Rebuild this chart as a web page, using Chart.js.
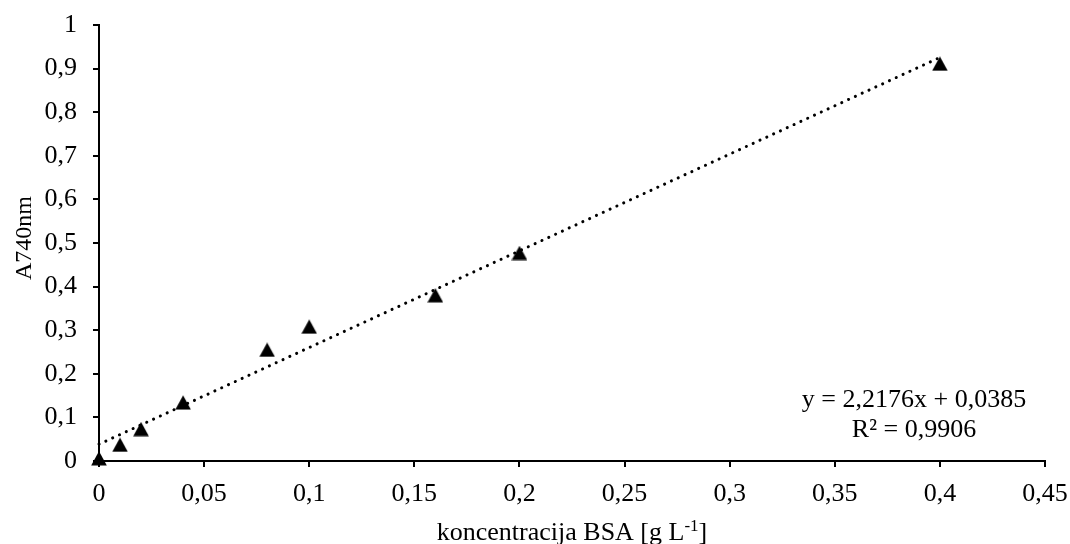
<!DOCTYPE html>
<html>
<head>
<meta charset="utf-8">
<script src="https://cdn.jsdelivr.net/npm/chart.js@4.4.0/dist/chart.umd.min.js"></script>
<style>
  html, body { margin: 0; padding: 0; background: #fff; }
  #wrap { width: 1070px; height: 544px; }
</style>
</head>
<body>
<div id="wrap"><canvas id="c" width="1070" height="544"></canvas></div>
<script>
// ---- data ----
const concentrations = [0, 0.01, 0.02, 0.04, 0.08, 0.1, 0.16, 0.2, 0.4];
const absorbance     = [0.006, 0.037, 0.073, 0.134, 0.255, 0.308, 0.38, 0.477, 0.911];
const trendSlope = 2.2176;
const trendIntercept = 0.0385;
const trendRange = [0, 0.4];
const xTickLabels = ['0', '0,05', '0,1', '0,15', '0,2', '0,25', '0,3', '0,35', '0,4', '0,45'];
const yTickLabels = ['0', '0,1', '0,2', '0,3', '0,4', '0,5', '0,6', '0,7', '0,8', '0,9', '1'];
const xTitle = 'koncentracija BSA [g L';
const xTitleSup = '-1';
const xTitleEnd = ']';
const yTitle = 'A740nm';
const eqLine1 = 'y = 2,2176x + 0,0385';
const eqLine2 = 'R² = 0,9906';

const FONT = '"Liberation Serif", "Times New Roman", serif';

// triangle marker
const tri = document.createElement('canvas');
tri.width = 16; tri.height = 15;
(function () {
  const t = tri.getContext('2d');
  t.fillStyle = '#000';
  t.beginPath();
  t.moveTo(8, 0.3);
  t.lineTo(15.8, 14.6);
  t.lineTo(0.2, 14.6);
  t.closePath();
  t.fill();
})();

const points = concentrations.map((x, i) => ({ x: x, y: absorbance[i] }));
const trend = trendRange.map(x => ({ x: x, y: trendSlope * x + trendIntercept }));

const textPlugin = {
  id: 'texts',
  afterDraw(chart) {
    const ctx = chart.ctx;
    const a = chart.chartArea;
    ctx.save();
    ctx.fillStyle = '#000';
    // equation
    ctx.font = '26px ' + FONT;
    ctx.textAlign = 'center';
    ctx.textBaseline = 'alphabetic';
    ctx.fillText(eqLine1, 914, 407);
    ctx.fillText(eqLine2, 914, 437);
    // x title with superscript
    ctx.font = '26px ' + FONT;
    const w1 = ctx.measureText(xTitle).width;
    ctx.font = '17px ' + FONT;
    const w2 = ctx.measureText(xTitleSup).width;
    ctx.font = '26px ' + FONT;
    const w3 = ctx.measureText(xTitleEnd).width;
    const total = w1 + w2 + w3;
    const cx = (a.left + a.right) / 2;
    let x0 = cx - total / 2;
    const yb = 540;
    ctx.textAlign = 'left';
    ctx.fillText(xTitle, x0, yb);
    ctx.font = '17px ' + FONT;
    ctx.fillText(xTitleSup, x0 + w1, yb - 9);
    ctx.font = '26px ' + FONT;
    ctx.fillText(xTitleEnd, x0 + w1 + w2, yb);
    // y title
    ctx.font = '24px ' + FONT;
    ctx.translate(31, 238);
    ctx.rotate(-Math.PI / 2);
    ctx.textAlign = 'center';
    ctx.textBaseline = 'alphabetic';
    ctx.fillText(yTitle, 0, 0);
    ctx.restore();
  }
};

new Chart(document.getElementById('c'), {
  type: 'scatter',
  data: {
    datasets: [
      {
        label: 'trend',
        type: 'line',
        data: trend,
        borderColor: '#000',
        borderWidth: 3,
        borderDash: [0.1, 7.4],
        borderCapStyle: 'round',
        pointRadius: 0,
        fill: false,
        tension: 0,
        clip: false,
        order: 2
      },
      {
        label: 'BSA',
        data: points,
        pointStyle: tri,
        pointRadius: 8,
        pointHoverRadius: 8,
        backgroundColor: '#000',
        borderColor: '#000',
        clip: false,
        order: 1
      }
    ]
  },
  options: {
    responsive: false,
    animation: false,
    devicePixelRatio: 1,
    layout: { padding: { top: 25, right: 25, left: 0, bottom: 0 } },
    plugins: { legend: { display: false }, tooltip: { enabled: false } },
    scales: {
      x: {
        type: 'linear',
        min: 0,
        max: 0.45,
        afterFit(scale) {
          scale.height = 83;
          scale.paddingLeft = 0; scale.paddingRight = 0;
          scale.paddingTop = 0; scale.paddingBottom = 0;
        },
        afterBuildTicks(scale) {
          scale.ticks = xTickLabels.map((l, i) => ({ value: Math.round(i * 5) / 100 }));
        },
        ticks: {
          color: '#000',
          font: { family: FONT, size: 26 },
          padding: 12,
          maxRotation: 0,
          autoSkip: false,
          callback: (v, i) => xTickLabels[i]
        },
        grid: { display: true, drawOnChartArea: false, drawTicks: true, tickLength: 6, color: '#000', lineWidth: 2 },
        border: { display: true, color: '#000', width: 2 }
      },
      y: {
        type: 'linear',
        min: 0,
        max: 1,
        afterFit(scale) {
          scale.width = 99;
          scale.paddingLeft = 0; scale.paddingRight = 0;
          scale.paddingTop = 0; scale.paddingBottom = 0;
        },
        afterBuildTicks(scale) {
          scale.ticks = yTickLabels.map((l, i) => ({ value: i / 10 }));
        },
        ticks: {
          color: '#000',
          font: { family: FONT, size: 26 },
          padding: 16,
          autoSkip: false,
          callback: (v, i) => yTickLabels[i]
        },
        grid: { display: true, drawOnChartArea: false, drawTicks: true, tickLength: 6, color: '#000', lineWidth: 2 },
        border: { display: true, color: '#000', width: 2 }
      }
    }
  },
  plugins: [textPlugin]
});
</script>
</body>
</html>
